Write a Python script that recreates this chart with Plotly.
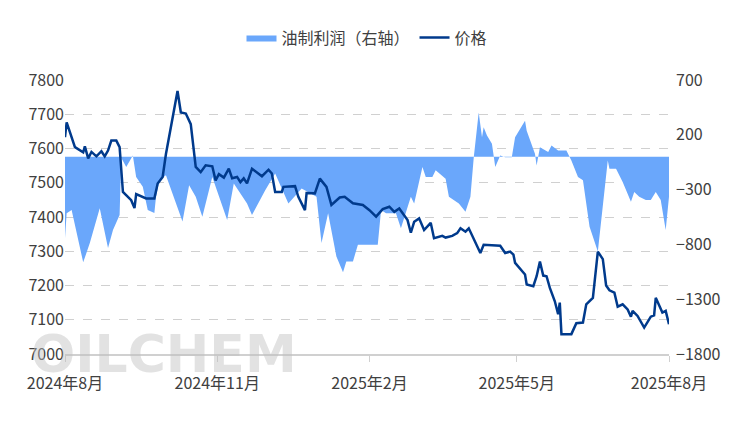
import plotly.graph_objects as go
import pandas as pd

start = pd.Timestamp('2024-08-01')

# 价格 (left axis): day offset from 2024-08-01, value
price_day = [0, 1, 6, 11, 12, 14, 16, 19, 22, 24, 26, 28, 31, 33, 35, 40, 42, 43, 49, 54, 56, 59, 61, 68,
             70, 73, 76, 79, 82, 85, 89, 91, 93, 96, 99, 101, 104, 106, 108, 110, 113, 119, 123, 125, 127,
             131, 132, 139, 141, 145, 146, 151, 154, 158, 161, 166, 169, 170, 174, 180, 184, 188, 192, 196,
             199, 202, 205, 207, 209, 211, 214, 217, 221, 223, 228, 230, 234, 237, 239, 242, 244, 248, 251,
             253, 260, 263, 266, 269, 271, 272, 278, 279, 283, 285, 287, 289, 291, 293, 296, 298, 299, 300,
             306, 309, 313, 315, 319, 322, 325, 327, 329, 332, 334, 337, 340, 342, 343, 346, 350, 354, 356,
             357, 361, 363, 365]
price = [7633, 7676, 7604, 7589, 7606, 7571, 7590, 7577, 7592, 7577, 7594, 7623, 7623, 7604, 7473, 7449,
         7426, 7467, 7454, 7454, 7498, 7517, 7584, 7768, 7705, 7702, 7671, 7546, 7531, 7551, 7548, 7507,
         7525, 7515, 7541, 7513, 7517, 7502, 7513, 7498, 7541, 7519, 7538, 7527, 7473, 7473, 7488, 7490,
         7459, 7420, 7470, 7469, 7512, 7488, 7435, 7457, 7459, 7455, 7440, 7435, 7420, 7401, 7423, 7430,
         7415, 7425, 7406, 7391, 7354, 7386, 7396, 7362, 7383, 7338, 7345, 7340, 7345, 7353, 7367, 7357,
         7367, 7324, 7295, 7319, 7316, 7316, 7295, 7299, 7290, 7266, 7232, 7203, 7198, 7227, 7270, 7229,
         7227, 7193, 7154, 7116, 7150, 7058, 7058, 7090, 7092, 7145, 7164, 7299, 7277, 7200, 7186, 7179,
         7138, 7145, 7130, 7109, 7126, 7111, 7077, 7109, 7113, 7164, 7121, 7126, 7087]

# 油制利润 (right axis)
profit_day = [0, 1, 4, 11, 15, 21, 26, 29, 33, 34, 37, 41, 43, 47, 50, 54, 55, 57, 61, 71, 75, 79, 83, 89,
              98, 102, 110, 113, 121, 127, 135, 143, 152, 155, 159, 164, 168, 170, 174, 177, 189, 191, 194,
              200, 203, 209, 211, 216, 218, 222, 224, 230, 232, 238, 242, 245, 247, 250, 252, 253, 255, 258,
              260, 263, 266, 270, 272, 278, 279, 284, 285, 287, 292, 294, 298, 303, 306, 310, 313, 317, 322,
              328, 329, 333, 337, 342, 344, 347, 351, 354, 357, 360, 363, 365]
profit = [-743, -516, -486, -964, -788, -471, -833, -668, -532, -10, -94, 10, -185, -275, -486, -514, -366,
          -215, -170, -592, -260, -366, -547, -185, -577, -245, -426, -532, -305, -154, -426, -290, -366,
          -788, -516, -910, -1055, -955, -955, -804, -804, -486, -516, -516, -652, -366, -426, -94, -185,
          -185, -124, -200, -366, -426, -502, -366, -9, 404, 178, 268, 193, 118, -94, 12, -4, -4, 178, 329,
          238, 27, -79, 87, 42, 102, 57, 57, -34, -185, -215, -638, -864, -34, -109, -109, -230, -411, -321,
          -366, -396, -396, -321, -396, -668, -366]

tick_dates = ['2024-08-01', '2024-11-01', '2025-02-01', '2025-05-01', '2025-08-01']
tick_text = ['2024年8月', '2024年11月', '2025年2月', '2025年5月', '2025年8月']

price_x = [start + pd.Timedelta(days=d) for d in price_day]
profit_x = [start + pd.Timedelta(days=d) for d in profit_day]

fig = go.Figure()
# profit on the base axis (drawn right), price on the overlaying axis so the line sits on top
fig.add_trace(go.Scatter(x=profit_x, y=profit, name='油制利润（右轴）', yaxis='y', mode='lines',
                         line=dict(width=0, color='#6aa7fb'), fill='tozeroy', fillcolor='#6aa7fb'))
fig.add_trace(go.Scatter(x=price_x, y=price, name='价格', yaxis='y2', mode='lines',
                         line=dict(width=2.5, color='#003a8c')))

fig.add_annotation(text='OILCHEM', x=-0.06, y=0.0, xref='paper', yref='paper', xanchor='left', yanchor='middle',
                   showarrow=False, font=dict(size=52, color='rgba(190,190,190,0.45)', family='DejaVu Sans',
                                              weight='bold'))

# page body adds ~8px offset, so margins are shifted to land the plot where the reference has it
fig.update_layout(
    width=745, height=422,
    margin=dict(l=57, r=84, t=70, b=76),
    plot_bgcolor='white', paper_bgcolor='white',
    font=dict(family='Noto Sans CJK SC', size=16, color='#404040'),
    legend=dict(orientation='h', x=0.5, xanchor='center', y=1.155, yanchor='middle', font=dict(size=16),
                traceorder='normal'),
    showlegend=True,
    xaxis=dict(range=['2024-08-01', '2025-08-01'], tickvals=tick_dates, ticktext=tick_text,
               showgrid=False, showline=True, linecolor='#d0d0d0', linewidth=2, ticks='outside',
               tickcolor='#d0d0d0', ticklen=6, ticklabelstandoff=8, automargin=False),
    yaxis=dict(range=[-1800, 700], tickvals=[700, 200, -300, -800, -1300, -1800], side='right',
               showgrid=False, zeroline=False, automargin=False, ticklabelstandoff=6),
    yaxis2=dict(range=[7000, 7800], dtick=100, overlaying='y', side='left', showgrid=True,
                gridcolor='#d0d0d0', griddash='dash', zeroline=False, automargin=False),
)

fig.write_html('out.html')
